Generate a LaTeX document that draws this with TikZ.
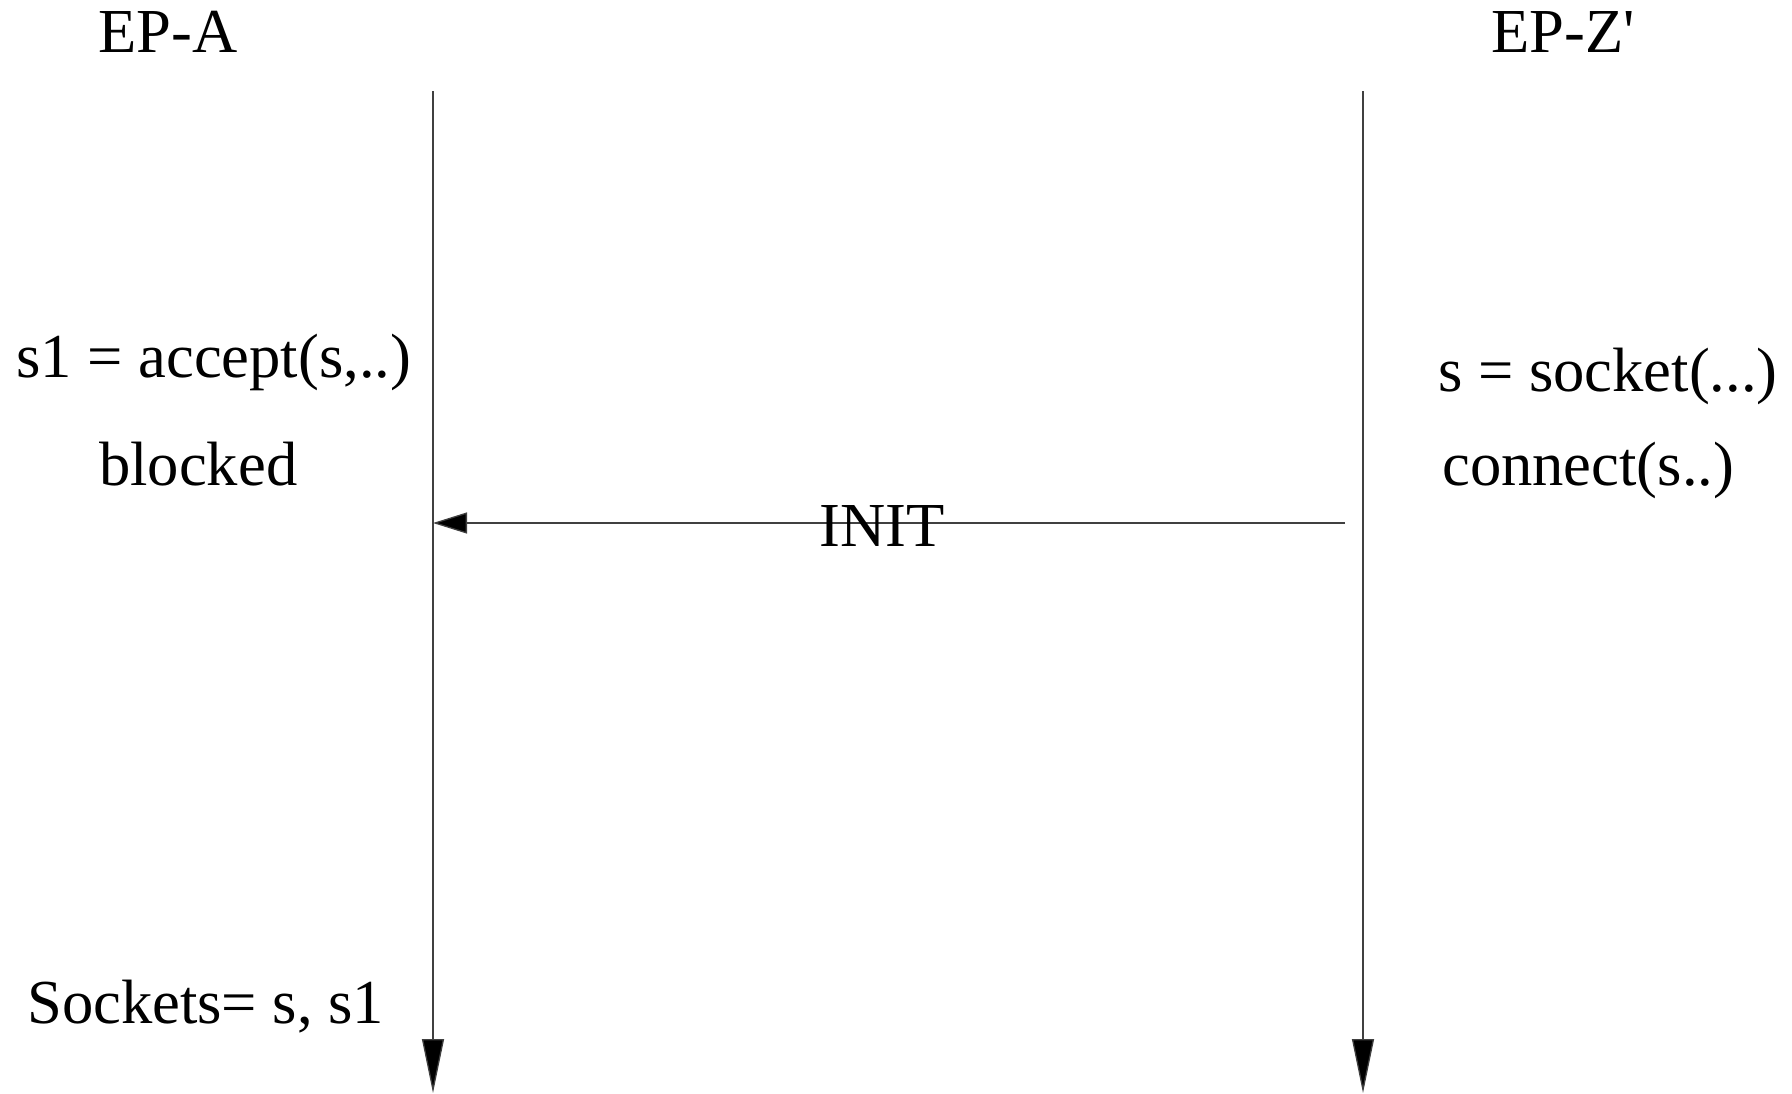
\documentclass[tikz,border=0pt]{standalone}
\usepackage{fontspec}
\setmainfont{Liberation Serif}[Ligatures=TeXOff]
\usetikzlibrary{arrows.meta}
\begin{document}
\begin{tikzpicture}[x=1pt,y=-1pt,
  lbl/.style={anchor=base west,inner sep=0pt,font=\fontsize{62.6}{70}\selectfont},
  life/.style={draw=black!75,line width=1.3pt,-{Triangle[length=54pt,width=22pt,fill=black]}},
  msg/.style={draw=black!75,line width=1.3pt,-{Triangle[length=34pt,width=21pt,fill=black]}}]
\useasboundingbox (0,0) rectangle (1792,1093);
\node[lbl] (epa) at (98,52) {EP-A};
\node[lbl] (epz) at (1491,52) {EP-Z'};
\coordinate (atop) at (433,91);
\coordinate (abot) at (433,1093);
\coordinate (ztop) at (1363,91);
\coordinate (zbot) at (1363,1093);
\coordinate (msgstart) at (1345,523);
\coordinate (msgend) at (433,523);
\draw[life] (atop) -- (abot);
\draw[life] (ztop) -- (zbot);
\draw[msg] (msgstart) -- (msgend);
\node[lbl] (acc) at (16,377) {s1 = accept(s,..)};
\node[lbl] (blk) at (99,485) {blocked};
\node[lbl] (sock) at (1438,391) {s = socket(...)};
\node[lbl] (conn) at (1442,485) {connect(s..)};
\node[lbl] (init) at (819,546) {INIT};
\node[lbl] (socks) at (27,1023) {Sockets= s, s1};
\end{tikzpicture}
\end{document}
